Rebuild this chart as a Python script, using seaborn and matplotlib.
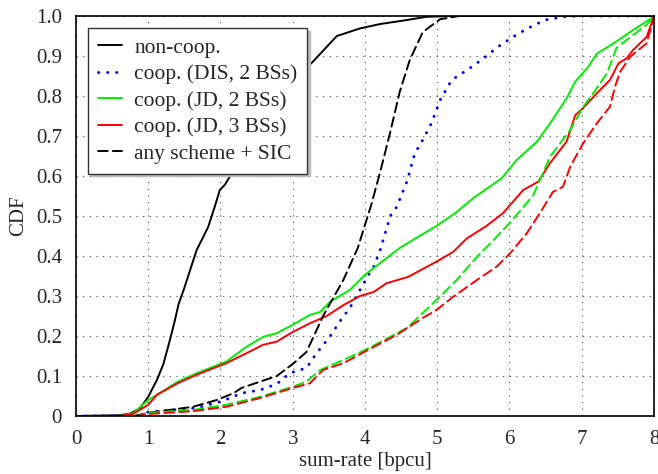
import numpy as np
import pandas as pd
import seaborn as sns
import matplotlib.pyplot as plt

# curves (x = sum-rate, y = CDF)
noncoop_x = [0, 0.6, 0.75, 0.89, 1.0, 1.12, 1.21, 1.30, 1.37, 1.42, 1.49, 1.58, 1.67, 1.74, 1.83, 1.92, 1.99, 2.06, 2.2, 2.5, 2.8, 3.0, 3.28, 3.61, 3.93, 4.21, 4.58, 4.85, 5.2, 8]
noncoop_y = [0, 0.002, 0.006, 0.02, 0.048, 0.09, 0.13, 0.19, 0.24, 0.28, 0.315, 0.365, 0.415, 0.44, 0.473, 0.523, 0.565, 0.578, 0.62, 0.72, 0.80, 0.84, 0.886, 0.95, 0.969, 0.98, 0.99, 0.998, 1.0, 1.0]

dis_x = [0, 0.85, 1.0, 1.67, 2.04, 2.29, 2.55, 2.78, 2.96, 3.19, 3.33, 3.52, 3.65, 3.79, 3.93, 4.05, 4.12, 4.21, 4.28, 4.35, 4.44, 4.58, 4.69, 4.80, 4.92, 5.04, 5.20, 5.43, 5.64, 5.84, 6.05, 6.26, 6.49, 6.74, 7.0, 8]
dis_y = [0, 0, 0.01, 0.02, 0.038, 0.057, 0.065, 0.08, 0.107, 0.12, 0.157, 0.20, 0.236, 0.27, 0.315, 0.353, 0.373, 0.415, 0.457, 0.50, 0.523, 0.586, 0.657, 0.69, 0.732, 0.79, 0.84, 0.867, 0.894, 0.923, 0.948, 0.97, 0.99, 0.998, 1.0, 1.0]

jd2_x = [0, 0.6, 0.79, 1.0, 1.12, 1.41, 1.67, 2.08, 2.36, 2.59, 2.78, 3.0, 3.24, 3.38, 3.52, 3.79, 4.0, 4.48, 4.80, 4.99, 5.27, 5.50, 5.89, 6.10, 6.38, 6.56, 6.79, 6.91, 7.09, 7.21, 7.39, 7.51, 7.71, 7.97, 8]
jd2_y = [0, 0, 0.007, 0.04, 0.053, 0.086, 0.107, 0.136, 0.173, 0.198, 0.207, 0.228, 0.253, 0.26, 0.286, 0.315, 0.353, 0.42, 0.455, 0.475, 0.51, 0.545, 0.594, 0.64, 0.686, 0.731, 0.794, 0.836, 0.873, 0.906, 0.926, 0.94, 0.965, 0.995, 1.0]

jd3_x = [0, 0.6, 0.79, 1.0, 1.12, 1.41, 1.67, 2.08, 2.36, 2.59, 2.78, 3.0, 3.24, 3.47, 3.70, 3.93, 4.12, 4.30, 4.60, 4.99, 5.22, 5.41, 5.68, 5.91, 6.19, 6.40, 6.56, 6.79, 6.91, 7.02, 7.21, 7.39, 7.51, 7.62, 7.71, 7.90, 8]
jd3_y = [0, 0, 0.005, 0.028, 0.053, 0.082, 0.103, 0.132, 0.157, 0.178, 0.186, 0.21, 0.232, 0.25, 0.277, 0.30, 0.31, 0.332, 0.348, 0.386, 0.41, 0.444, 0.475, 0.507, 0.565, 0.586, 0.632, 0.686, 0.752, 0.77, 0.807, 0.84, 0.882, 0.894, 0.915, 0.948, 1.0]

sic_x = [0, 0.8, 1.0, 1.62, 1.95, 2.18, 2.29, 2.55, 2.78, 3.0, 3.19, 3.42, 3.70, 3.90, 4.09, 4.21, 4.35, 4.48, 4.62, 4.80, 5.04, 5.3, 8]
sic_y = [0, 0, 0.008, 0.023, 0.04, 0.057, 0.07, 0.086, 0.10, 0.13, 0.16, 0.25, 0.34, 0.42, 0.53, 0.61, 0.71, 0.81, 0.89, 0.96, 0.992, 1.0, 1.0]

sic2_x = [0, 0.85, 1.0, 1.62, 2.08, 2.55, 3.0, 3.19, 3.38, 3.70, 4.0, 4.35, 4.58, 4.99, 5.27, 5.55, 5.78, 6.01, 6.33, 6.56, 6.84, 7.02, 7.16, 7.35, 7.48, 7.62, 7.90, 8]
sic2_y = [0, 0, 0.008, 0.015, 0.028, 0.048, 0.073, 0.086, 0.115, 0.14, 0.165, 0.198, 0.22, 0.29, 0.34, 0.398, 0.44, 0.484, 0.552, 0.648, 0.715, 0.773, 0.807, 0.857, 0.92, 0.94, 0.978, 1.0]

sic3_x = [0, 0.85, 1.0, 1.62, 2.08, 2.55, 3.0, 3.24, 3.42, 3.70, 4.0, 4.44, 4.80, 4.99, 5.22, 5.55, 5.82, 6.01, 6.24, 6.42, 6.60, 6.74, 6.84, 7.02, 7.21, 7.39, 7.46, 7.53, 7.67, 7.90, 8]
sic3_y = [0, 0, 0.005, 0.012, 0.023, 0.045, 0.07, 0.082, 0.115, 0.132, 0.161, 0.203, 0.245, 0.265, 0.298, 0.34, 0.373, 0.407, 0.457, 0.507, 0.56, 0.573, 0.623, 0.682, 0.732, 0.773, 0.823, 0.86, 0.898, 0.932, 1.0]

sns.set_theme(style='white')
plt.rcParams['font.family'] = ['Liberation Serif', 'DejaVu Serif']

fig = plt.figure(figsize=(6.58, 4.74), dpi=100)
ax = fig.add_axes([0.1155, 0.1224, 0.8784, 0.8438])

dotted = (0, (0.1, 3.0))
dashed = (0, (5, 2.6))
series = [
    (noncoop_x, noncoop_y, 'black', '-', 'non-coop.'),
    (dis_x, dis_y, 'blue', dotted, 'coop. (DIS, 2 BSs)'),
    (jd2_x, jd2_y, '#00ee00', '-', 'coop. (JD, 2 BSs)'),
    (jd3_x, jd3_y, 'red', '-', 'coop. (JD, 3 BSs)'),
    (sic_x, sic_y, 'black', dashed, 'any scheme + SIC'),
    (sic2_x, sic2_y, '#00ee00', dashed, None),
    (sic3_x, sic3_y, 'red', dashed, None),
]
for xs, ys, col, ls, lab in series:
    df = pd.DataFrame({'x': xs, 'y': ys})
    lw = 2.1 if ls is dotted else 1.4
    sns.lineplot(data=df, x='x', y='y', ax=ax, color=col, linestyle=ls, linewidth=lw,
                 label=lab, sort=False, estimator=None, dash_capstyle='round')

ax.set_xlim(0, 8)
ax.set_ylim(0, 1)
ax.set_xticks(range(0, 9))
ax.set_yticks(np.arange(0, 1.01, 0.1))
ax.set_yticklabels(['0'] + [f'{v:.1f}' for v in np.arange(0.1, 1.01, 0.1)])
ax.grid(True, linestyle=(0, (1, 5)), color='#444444', linewidth=0.8)
ax.tick_params(direction='out', length=6, width=1, color='#555555', labelsize=15, pad=4)
for s in ax.spines.values():
    s.set_color('black')
    s.set_linewidth(1.2)
ax.set_xlabel('sum-rate [bpcu]', fontsize=15, labelpad=2)
ax.set_ylabel('CDF', fontsize=15, labelpad=6)

leg = ax.legend(loc='upper left', bbox_to_anchor=(0.021, 0.97), borderaxespad=0, fontsize=15.5,
                frameon=True, fancybox=False, shadow={'color': '#bbbbbb', 'alpha': 1},
                edgecolor='#333333', framealpha=1, handlelength=1.1, handletextpad=0.6,
                labelspacing=0.3, borderpad=0.45)
leg.get_frame().set_linewidth(1.0)

fig.savefig('out.png', dpi=100)
